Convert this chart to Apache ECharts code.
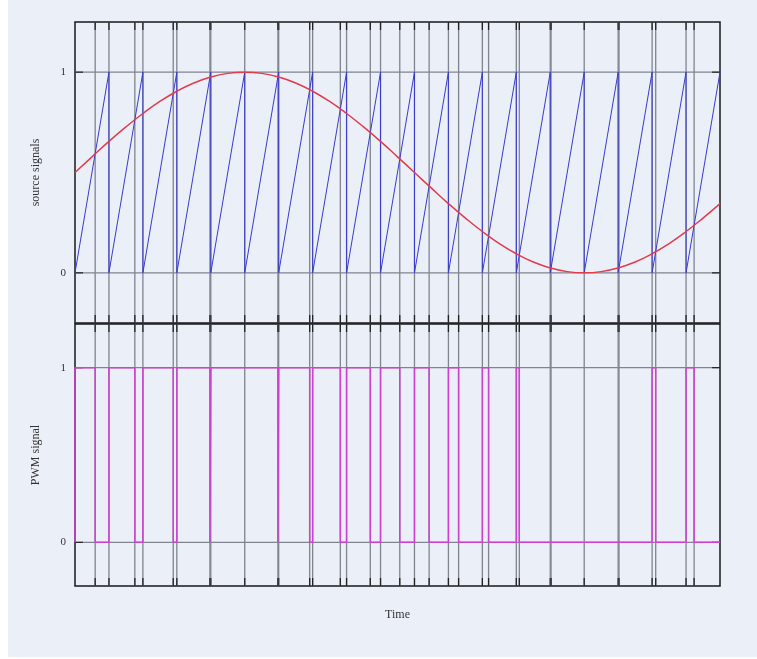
<!DOCTYPE html>
<html>
<head>
<meta charset="utf-8">
<script src="https://cdn.jsdelivr.net/npm/echarts@6/dist/echarts.min.js"></script>
<style>
  html, body { margin: 0; padding: 0; background: #ffffff; }
  #main { width: 757px; height: 659px; }
</style>
</head>
<body>
<div id="main"></div>
<script>
// time runs over 19 ramp periods
const tMin = 0
const tMax = 19
const yMin = -0.25
const yMax = 1.25

// start of each ramp (sawtooth goes 0 -> 1 over one period)
const toothStarts = [0, 1, 2, 3, 4, 5, 6, 7, 8, 9, 10, 11, 12, 13, 14, 15, 16, 17, 18]

// reference (sine) samples, read every half period
const sineTimes = [0, 0.5, 1, 1.5, 2, 2.5, 3, 3.5, 4, 4.5, 5, 5.5, 6, 6.5, 7, 7.5, 8, 8.5, 9, 9.5,
  10, 10.5, 11, 11.5, 12, 12.5, 13, 13.5, 14, 14.5, 15, 15.5, 16, 16.5, 17, 17.5, 18, 18.5, 19]
const sineValues = [0.5, 0.578, 0.655, 0.727, 0.794, 0.854, 0.905, 0.946, 0.976, 0.994, 1.0, 0.994,
  0.976, 0.946, 0.905, 0.854, 0.794, 0.727, 0.655, 0.578, 0.5, 0.422, 0.345, 0.273, 0.206, 0.146,
  0.095, 0.054, 0.024, 0.006, 0.0, 0.006, 0.024, 0.054, 0.095, 0.146, 0.206, 0.273, 0.345]

// where the ramp crosses the reference
const crossTimes = [0.594, 1.763, 2.894, 3.975, 5.977, 6.913, 7.816, 8.699, 9.567, 10.432, 11.3,
  12.183, 13.088, 14.023, 16.025, 17.106, 18.237]

// PWM pulses (high from rise to fall)
const pwmRise = [0, 1, 2, 3, 4, 6, 7, 8, 9, 10, 11, 12, 13, 17, 18]
const pwmFall = [0.594, 1.763, 2.894, 3.975, 5.977, 6.913, 7.816, 8.699, 9.567, 10.432, 11.3,
  12.183, 13.088, 17.106, 18.237]

// y tick labels
const yTicks = [0, 1]

const gridTimes = toothStarts.slice(1).concat(crossTimes)

let sawData = []
toothStarts.forEach(k => {
  sawData.push([k, 0])
  sawData.push([k + 1, 1])
})

const sineData = sineTimes.map((t, i) => [t, sineValues[i]])

let pwmData = []
pwmRise.forEach((r, i) => {
  pwmData.push([r, 0])
  pwmData.push([r, 1])
  pwmData.push([pwmFall[i], 1])
  pwmData.push([pwmFall[i], 0])
})
pwmData.push([tMax, 0])

const font = 'Liberation Serif'
const tickLen = 8

function vGrid(idx) {
  return {
    type: 'custom',
    xAxisIndex: idx,
    yAxisIndex: idx,
    silent: true,
    z: 1,
    encode: { x: 0, y: 1 },
    data: gridTimes.map(t => [t, 0]),
    renderItem: function(params, api) {
      const top = api.coord([api.value(0), yMax])
      const bot = api.coord([api.value(0), yMin])
      return {
        type: 'group',
        children: [
          { type: 'line', shape: { x1: top[0], y1: top[1], x2: bot[0], y2: bot[1] }, style: { stroke: '#80848f', lineWidth: 1.3 } },
          { type: 'line', shape: { x1: top[0], y1: top[1], x2: top[0], y2: top[1] + tickLen }, style: { stroke: '#222', lineWidth: 1.3 } },
          { type: 'line', shape: { x1: bot[0], y1: bot[1], x2: bot[0], y2: bot[1] - tickLen }, style: { stroke: '#222', lineWidth: 1.3 } }
        ]
      }
    }
  }
}

function hGrid(idx) {
  return {
    type: 'custom',
    xAxisIndex: idx,
    yAxisIndex: idx,
    silent: true,
    z: 1,
    encode: { x: 0, y: 1 },
    data: yTicks.map(v => [tMin, v]),
    renderItem: function(params, api) {
      const l = api.coord([tMin, api.value(1)])
      const r = api.coord([tMax, api.value(1)])
      return {
        type: 'group',
        children: [
          { type: 'line', shape: { x1: l[0], y1: l[1], x2: r[0], y2: r[1] }, style: { stroke: '#80848f', lineWidth: 1.2 } },
          { type: 'line', shape: { x1: l[0], y1: l[1], x2: l[0] + tickLen, y2: l[1] }, style: { stroke: '#222', lineWidth: 1.2 } },
          { type: 'line', shape: { x1: r[0], y1: r[1], x2: r[0] - tickLen, y2: r[1] }, style: { stroke: '#222', lineWidth: 1.2 } }
        ]
      }
    }
  }
}

function yAxisOf(idx, name) {
  return {
    type: 'value',
    gridIndex: idx,
    min: yMin,
    max: yMax,
    interval: 0.25,
    name: name,
    nameLocation: 'middle',
    nameGap: 33,
    nameRotate: 90,
    nameTextStyle: { fontFamily: font, fontSize: 12, color: '#333' },
    axisLine: { show: false },
    axisTick: { show: false },
    splitLine: { show: false },
    axisLabel: {
      margin: 9,
      fontFamily: font,
      fontSize: 11,
      color: '#333',
      formatter: v => (yTicks.indexOf(v) >= 0 ? String(v) : '')
    }
  }
}

function xAxisOf(idx, name) {
  return {
    type: 'value',
    gridIndex: idx,
    min: tMin,
    max: tMax,
    name: name,
    nameLocation: 'middle',
    nameGap: 23,
    nameTextStyle: { fontFamily: font, fontSize: 12, color: '#333' },
    axisLine: { show: false },
    axisTick: { show: false },
    axisLabel: { show: false },
    splitLine: { show: false }
  }
}

const chart = echarts.init(document.getElementById('main'))
chart.setOption({
  animation: false,
  backgroundColor: '#ffffff',
  graphic: [{
    type: 'rect',
    z: -100,
    silent: true,
    shape: { x: 8, y: 0, width: 749, height: 657 },
    style: { fill: '#ebeff8' }
  }],
  grid: [
    { left: 75, right: 37, top: 22, height: 301, show: true, borderColor: '#1a1a1a', borderWidth: 1.5, backgroundColor: 'transparent' },
    { left: 75, right: 37, top: 324, height: 262, show: true, borderColor: '#1a1a1a', borderWidth: 1.5, backgroundColor: 'transparent' }
  ],
  xAxis: [xAxisOf(0, ''), xAxisOf(1, 'Time')],
  yAxis: [yAxisOf(0, 'source signals'), yAxisOf(1, 'PWM signal')],
  series: [
    vGrid(0),
    hGrid(0),
    vGrid(1),
    hGrid(1),
    {
      name: 'carrier',
      type: 'line',
      xAxisIndex: 0,
      yAxisIndex: 0,
      data: sawData,
      showSymbol: false,
      z: 3,
      lineStyle: { color: '#3a3acc', width: 1 }
    },
    {
      name: 'reference',
      type: 'line',
      xAxisIndex: 0,
      yAxisIndex: 0,
      data: sineData,
      smooth: true,
      showSymbol: false,
      z: 4,
      lineStyle: { color: '#e03c4c', width: 1.5 }
    },
    {
      name: 'pwm',
      type: 'line',
      xAxisIndex: 1,
      yAxisIndex: 1,
      data: pwmData,
      showSymbol: false,
      z: 3,
      lineStyle: { color: '#d040d0', width: 1.5 }
    }
  ]
})
</script>
</body>
</html>
